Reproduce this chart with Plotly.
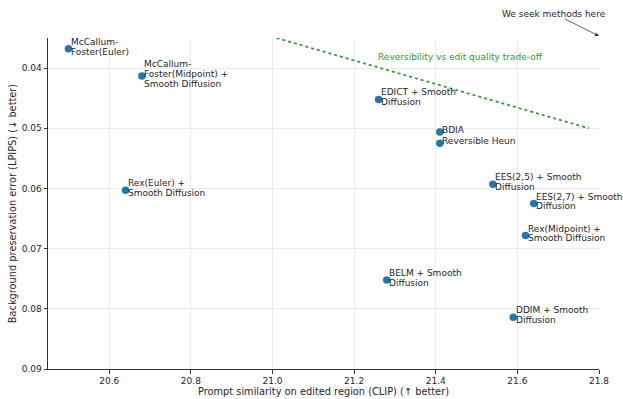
import plotly.graph_objects as go

methods = [
    "McCallum-<br>Foster(Euler)",
    "McCallum-<br>Foster(Midpoint) +<br>Smooth Diffusion",
    "Rex(Euler) +<br>Smooth Diffusion",
    "EDICT + Smooth<br>Diffusion",
    "BDIA",
    "Reversible Heun",
    "EES(2,5) + Smooth<br>Diffusion",
    "EES(2,7) + Smooth<br>Diffusion",
    "Rex(Midpoint) +<br>Smooth Diffusion",
    "BELM + Smooth<br>Diffusion",
    "DDIM + Smooth<br>Diffusion",
]
clip_scores = [20.50, 20.68, 20.64, 21.26, 21.41, 21.41, 21.54, 21.64, 21.62, 21.28, 21.59]
lpips_scores = [0.0368, 0.0413, 0.0603, 0.0452, 0.0506, 0.0525, 0.0593, 0.0625, 0.0678, 0.0752, 0.0814]

tradeoff_x = [21.01, 21.775]
tradeoff_y = [0.035, 0.050]

x_ticks = [20.6, 20.8, 21.0, 21.2, 21.4, 21.6, 21.8]
y_ticks = [0.04, 0.05, 0.06, 0.07, 0.08, 0.09]

FONT = "DejaVu Sans"
FS = 9.0
FT = 9.8
TXT = "#262626"
BLUE = "#1f77b4"
GREEN = "#2ca02c"

fig = go.Figure()
fig.add_trace(go.Scatter(
    x=tradeoff_x, y=tradeoff_y, mode="lines",
    line=dict(color=GREEN, width=1.7, dash="dot"),
    hoverinfo="skip", showlegend=False,
))
fig.add_trace(go.Scatter(
    x=clip_scores, y=lpips_scores, mode="markers",
    marker=dict(color=BLUE, size=7.5, line=dict(width=0)),
    showlegend=False, cliponaxis=False,
))

annotations = []
LS = 9.8
for m, xv, yv in zip(methods, clip_scores, lpips_scores):
    lines = m.split("<br>")
    n = len(lines)
    for i, ln in enumerate(lines):
        annotations.append(dict(
            x=xv, y=yv, xref="x", yref="y", text=ln, showarrow=False,
            xanchor="left", yanchor="middle", xshift=1.5,
            yshift=2 + (n - 1) / 2 * LS - i * LS,
            font=dict(family=FONT, size=FS, color=TXT), borderpad=0,
        ))

annotations.append(dict(
    x=21.26, y=0.0382, xref="x", yref="y", xshift=-1.5,
    text="Reversibility vs edit quality trade-off", showarrow=False,
    xanchor="left", yanchor="middle", borderpad=0,
    font=dict(family=FONT, size=FS, color=GREEN),
))
annotations.append(dict(
    x=1.0, y=1.0, xref="x domain", yref="y domain", yshift=2,
    text="We seek methods here", showarrow=True,
    ax=-45, ay=-22.5, axref="pixel", ayref="pixel",
    arrowhead=2, arrowsize=1, arrowwidth=0.8, arrowcolor="#333333",
    font=dict(family=FONT, size=FS, color=TXT), borderpad=0,
))

axis_common = dict(
    showline=True, linecolor="#333333", linewidth=1,
    ticks="outside", ticklen=3.5, tickwidth=0.8, tickcolor="#333333",
    showgrid=True, gridcolor="#ebebeb", gridwidth=0.8,
    zeroline=False, mirror=False, automargin=False,
    tickfont=dict(family=FONT, size=FS, color=TXT),
)

fig.update_layout(
    width=623, height=399,
    margin=dict(l=48, r=24, t=38, b=30, autoexpand=False),
    paper_bgcolor="white", plot_bgcolor="white",
    annotations=annotations,
    xaxis=dict(
        range=[20.45, 21.8], tickvals=x_ticks,
        ticktext=[f"{v:.1f}" for v in x_ticks],
        title=dict(text="Prompt similarity on edited region (CLIP) (↑ better)",
                   font=dict(family=FONT, size=FT, color=TXT), standoff=1),
        **axis_common,
    ),
    yaxis=dict(
        range=[0.09, 0.035], tickvals=y_ticks,
        ticktext=[f"{v:.2f}" for v in y_ticks],
        title=dict(text="Background preservation error (LPIPS) (↓ better)",
                   font=dict(family=FONT, size=FT, color=TXT), standoff=3),
        **axis_common,
    ),
    font=dict(family=FONT, size=FS, color=TXT),
)

fig.write_html(
    "out.html",
    config={"displayModeBar": False},
    post_script="document.body.style.margin='0';document.body.style.overflow='hidden';",
)
